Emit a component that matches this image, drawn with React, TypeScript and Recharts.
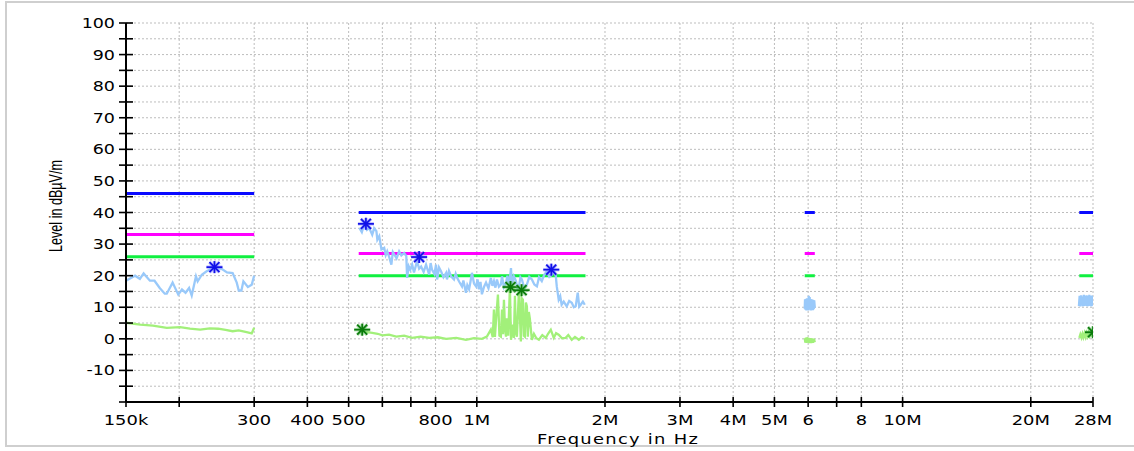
import { ComposedChart, Line, Scatter, XAxis, YAxis, CartesianGrid } from "recharts";

// frequencies in kHz, levels in dBµV/m
const peakSeg1 = [
  [150, 18.4], [157.5, 20], [161.7, 19], [165, 20.7], [170.7, 18.4], [175, 18.4], [180, 16.1], [185, 14.3],
  [187, 14.3], [193, 17.8], [199, 14], [203, 15.6], [207, 14.6], [211, 16.1], [214, 13.7], [219, 19.8],
  [221, 18.2], [226, 20.3], [232, 21.4], [242, 22.7], [252, 22.1], [259, 21], [267, 20.8], [273, 17.8],
  [276, 15.3], [280, 15.3], [283, 18.2], [290, 16.4], [296, 17.1], [300, 20],
];
const peakSeg2 = [
  [530, 35.1], [537, 33.8], [544, 36.2], [552, 34.5], [559, 35.1], [568, 33], [574, 35], [581, 34.1], [584, 31.4],
  [590, 32.5], [597, 28.3], [606, 28.8], [611, 26.5], [616, 27.7], [623, 25.8], [630, 23.5], [635, 27.5], [640, 26.7],
  [648, 25.5], [657, 27.7], [665, 26.4], [675, 27.2], [683, 26.2], [686, 19.3], [692, 23], [698, 21.9], [705, 23.5],
  [712, 21], [724, 24.6], [732, 22.2], [740, 22.9], [750, 21.2], [760, 23.5], [773, 20.3], [779, 24], [785, 21.9],
  [795, 20.5], [802, 23.5], [807, 18.8], [815, 22.6], [824, 21.4], [835, 19.5], [847, 20.9], [851, 18.8],
  [860, 21.5], [870, 19.8], [884, 18.8], [892, 20.6], [899, 19.3], [910, 18], [923, 16.6], [930, 18.5],
  [943, 14.6], [950, 17], [959, 15.7], [966, 18], [974, 20.9], [985, 17.5], [996, 16.6], [1004, 18.8],
  [1012, 15.7], [1020, 18], [1028, 14.1], [1040, 16.5], [1051, 17.8], [1065, 16], [1079, 19.3], [1088, 16.8],
  [1097, 18.3], [1106, 16.2], [1115, 18.8], [1127, 16.5], [1139, 17.2], [1146, 19.8], [1158, 16.4], [1171, 17.8],
  [1180, 20], [1190, 16.6], [1203, 22.4], [1209, 17.2], [1222, 19.8], [1236, 18.3], [1246, 15.8], [1256, 16.6],
  [1266, 19.5], [1276, 18.8], [1293, 16], [1311, 17.2], [1328, 19.6], [1347, 18.8], [1365, 17.2], [1384, 16.6],
  [1400, 19.5], [1421, 18.3], [1440, 20.3], [1460, 21.4], [1480, 19.6], [1500, 20.3], [1515, 21.8], [1533, 19.8],
  [1541, 16.6], [1557, 12.4], [1570, 13.5], [1582, 10.8], [1600, 11.8], [1626, 10.3], [1648, 12], [1671, 11.4],
  [1690, 10], [1707, 10.3], [1726, 14.6], [1740, 10.2], [1754, 10.8], [1775, 11.8], [1793, 10.8],
];
const peakSeg3 = [
  [5890, 9.5], [5900, 12.5], [5915, 9.2], [5930, 12.6], [5945, 9], [5960, 12.8], [5975, 9.3], [5990, 12.4],
  [6005, 9], [6020, 13.6], [6035, 9.2], [6050, 13.2], [6065, 9.4], [6080, 12.6], [6095, 9], [6110, 12.5],
  [6125, 9.3], [6140, 12.4], [6155, 9.1], [6170, 12.3], [6185, 9.4], [6200, 12.2], [6220, 9.8],
];
const peakSeg4 = [
  [25950, 10.4], [26050, 13.6], [26150, 10.3], [26250, 13.8], [26350, 10.5], [26450, 13.4], [26550, 10.3],
  [26650, 13.9], [26750, 10.4], [26850, 13.6], [26950, 10.5], [27050, 13.8], [27150, 10.3], [27250, 13.5],
  [27350, 10.4], [27450, 13.9], [27550, 10.5], [27650, 13.6], [27750, 10.3], [27850, 13.7], [27950, 10.5],
  [28000, 13],
];

const avgSeg1 = [
  [150, 5.1], [162, 4.5], [173.5, 4.2], [187, 3.5], [201, 3.7], [212, 3.2], [224, 2.9], [236, 3.3], [247, 3.2],
  [257, 2.8], [267, 2.4], [276, 2.7], [288, 2.1], [296, 1.7], [300, 3.5],
];
const avgSeg2 = [
  [530, 2.7], [548, 2.2], [568, 1.9], [585, 1.6], [600, 1.1], [622, 1.3], [647, 0.7], [675, 1], [705, 0.3],
  [738, 0.7], [773, 0.3], [810, 0.5], [847, 0], [895, 0.3], [943, -0.3], [985, 0.2], [1028, 0], [1056, 0.7],
  [1079, 2.9], [1090, 0.5], [1097, 9.3], [1103, 0.6], [1109, 5.5], [1121, 14], [1130, 1], [1139, 0.7], [1146, 9.3],
  [1152, 1.5], [1158, 12.4], [1165, 3], [1171, 0.7], [1177, 6.5], [1185, 1], [1196, 16.4], [1203, -0.3],
  [1216, 4.5], [1222, 0.3], [1229, 13.6], [1235, 2], [1242, 0.7], [1256, 15.4], [1269, -0.8], [1276, 12.8],
  [1283, 12.4], [1290, 1], [1297, 0.7], [1304, 11.5], [1311, 10.3], [1318, 0.7], [1325, 8.5], [1332, 6.5],
  [1347, -0.3], [1362, 1.6], [1380, 0.2], [1399, -0.3], [1425, 1.2], [1452, 0.3], [1470, 1.6], [1492, 2.9],
  [1516, 0.3], [1535, 1.8], [1557, 1.3], [1585, 0.2], [1617, 0.3], [1640, 1.2], [1671, -0.3], [1700, 0.6],
  [1736, -0.3], [1765, 0.5], [1793, 0],
];
const avgSeg3 = [
  [5890, 0.2], [5910, -1.2], [5930, 0.4], [5950, -1.3], [5970, 0.5], [5990, -1.2], [6010, 0.3], [6040, -1.3],
  [6070, 0.2], [6100, -1.3], [6130, 0.1], [6160, -1.2], [6190, 0], [6220, -1.1],
];
const avgSeg4 = [
  [26000, 0.3], [26150, 1.4], [26300, 0.4], [26450, 1.6], [26600, 0.5], [26750, 1.8], [26900, 0.6],
  [27050, 1.8], [27200, 0.8], [27350, 2], [27500, 1], [27650, 2], [27800, 1.3], [28000, 2],
];

// limit line segments: [start kHz, end kHz]
const limitRanges = [[150, 300], [528, 1800], [5890, 6220], [26000, 28000]];
const qpLimit = [46, 40, 40, 40];
const midLimit = [33, 27, 27, 27];
const avLimit = [26, 20, 20, 20];

const peakMarkers = [[242, 22.7], [549, 36.4], [732, 25.9], [1496, 21.9]];
const avgMarkers = [[538, 2.9], [1200, 16.4], [1274, 15.4], [28000, 2.1]];

const xTicks = [150, 200, 300, 400, 500, 600, 700, 800, 1000, 2000, 3000, 4000, 5000, 6000, 7000, 8000, 10000, 20000, 28000];
const xTickLabels = ["150k", "", "300", "400", "500", "", "", "800", "1M", "2M", "3M", "4M", "5M", "6", "", "8", "10M", "20M", "28M"];
const yTicks = [-20, -15, -10, -5, 0, 5, 10, 15, 20, 25, 30, 35, 40, 45, 50, 55, 60, 65, 70, 75, 80, 85, 90, 95, 100];

const joinSegments = (segs: number[][][]) => {
  const out: { f: number; v: number | null }[] = [];
  segs.forEach((s, i) => {
    if (i > 0) out.push({ f: (segs[i - 1][segs[i - 1].length - 1][0] + s[0][0]) * 500, v: null });
    s.forEach(([k, v]) => out.push({ f: k * 1000, v }));
  });
  return out;
};
const limitData = (levels: number[]) =>
  joinSegments(limitRanges.map(([a, b], i) => [[a, levels[i]], [b, levels[i]]]));

const peakData = joinSegments([peakSeg1, peakSeg2, peakSeg3, peakSeg4]);
const avgData = joinSegments([avgSeg1, avgSeg2, avgSeg3, avgSeg4]);
const peakMarkerData = peakMarkers.map(([k, v]) => ({ f: k * 1000, v }));
const avgMarkerData = avgMarkers.map(([k, v]) => ({ f: k * 1000, v }));

const FONT = "'DejaVu Sans', Verdana, sans-serif";

const XTick = (props: any) => {
  const { x, y, payload } = props;
  const label = xTickLabels[xTicks.indexOf(payload.value / 1000)] ?? "";
  return (
    <g>
      <line x1={x} x2={x} y1={y - 5} y2={y + 5} stroke="#000" strokeWidth={1.6} />
      <text transform={`translate(${x},${y + 23}) scale(1.28,1)`} textAnchor="middle" fontFamily={FONT} fontSize={14} fill="#000">
        {label}
      </text>
    </g>
  );
};

const YTick = (props: any) => {
  const { x, y, payload } = props;
  const v = payload.value;
  const showLabel = v % 10 === 0 && v !== -20;
  return (
    <g>
      <line x1={x - 7} x2={x + 7} y1={y} y2={y} stroke="#000" strokeWidth={1.6} />
      {showLabel && (
        <text transform={`translate(${x - 11},${y + 5}) scale(1.25,1)`} textAnchor="end" fontFamily={FONT} fontSize={14} fill="#000">
          {v}
        </text>
      )}
    </g>
  );
};

const makeStar = (color: string, halo: string) => (props: any) => {
  const { cx, cy } = props;
  const lines = [
    [-8, 0, 8, 0],
    [0, -6, 0, 6],
    [-5, -5, 5, 5],
    [-5, 5, 5, -5],
  ];
  return (
    <g>
      {lines.map(([a, b, c, d], i) => (
        <line key={"h" + i} x1={cx + a} y1={cy + b} x2={cx + c} y2={cy + d} stroke={halo} strokeWidth={3.5} strokeOpacity={0.5} />
      ))}
      {lines.map(([a, b, c, d], i) => (
        <line key={"m" + i} x1={cx + a} y1={cy + b} x2={cx + c} y2={cy + d} stroke={color} strokeWidth={1.7} />
      ))}
    </g>
  );
};
const BlueStar = makeStar("#1010e8", "#8080ff");
const GreenStar = makeStar("#0a7a0a", "#60c060");

export default function App() {
  return (
    <div style={{ position: "absolute", left: 0, top: 0, width: 1134, height: 451, background: "#fff" }}>
      <div style={{ position: "absolute", left: 5, top: 1, width: 1140, height: 446, border: "2px solid #cfcfcf", boxSizing: "border-box" }} />
      <ComposedChart width={1134} height={451} margin={{ top: 23, right: 41, bottom: 0, left: 0 }} style={{ position: "absolute", left: 0, top: 0 }}>
        <CartesianGrid stroke="#bdbdbd" strokeDasharray="2 2" strokeWidth={1} />
        <XAxis
          type="number"
          dataKey="f"
          scale="log"
          domain={[150000, 28000000]}
          allowDataOverflow
          ticks={xTicks.map((t) => t * 1000)}
          interval={0}
          height={49}
          tickSize={0}
          tickMargin={0}
          tickLine={false}
          axisLine={{ stroke: "#000", strokeWidth: 2 }}
          tick={<XTick />}
          label={() => (
            <text transform="translate(618,444) scale(1.28,1)" textAnchor="middle" fontFamily={FONT} fontSize={14} letterSpacing={1} fill="#000">
              Frequency in Hz
            </text>
          )}
        />
        <YAxis
          type="number"
          dataKey="v"
          domain={[-20, 100]}
          allowDataOverflow
          ticks={yTicks}
          interval={0}
          width={126}
          tickSize={0}
          tickMargin={0}
          tickLine={false}
          axisLine={{ stroke: "#000", strokeWidth: 2 }}
          tick={<YTick />}
          label={() => (
            <text transform="translate(62,206) rotate(-90) scale(0.7,1)" textAnchor="middle" fontFamily="'Liberation Sans', Arial, sans-serif" fontSize={18} fill="#000">
              Level in dBµV/m
            </text>
          )}
        />
        <Line data={limitData(qpLimit)} dataKey="v" stroke="#0a0aff" strokeWidth={3} dot={false} isAnimationActive={false} type="linear" />
        <Line data={limitData(midLimit)} dataKey="v" stroke="#ff00ff" strokeWidth={3} dot={false} isAnimationActive={false} type="linear" />
        <Line data={limitData(avLimit)} dataKey="v" stroke="#10f040" strokeWidth={3} dot={false} isAnimationActive={false} type="linear" />
        <Line data={peakData} dataKey="v" stroke="#99c9fa" strokeWidth={2.3} dot={false} isAnimationActive={false} type="linear" />
        <Line data={avgData} dataKey="v" stroke="#a2f07a" strokeWidth={2.3} dot={false} isAnimationActive={false} type="linear" />
        <Scatter data={peakMarkerData} dataKey="v" shape={BlueStar} isAnimationActive={false} />
        <Scatter data={avgMarkerData} dataKey="v" shape={GreenStar} isAnimationActive={false} />
      </ComposedChart>
    </div>
  );
}
